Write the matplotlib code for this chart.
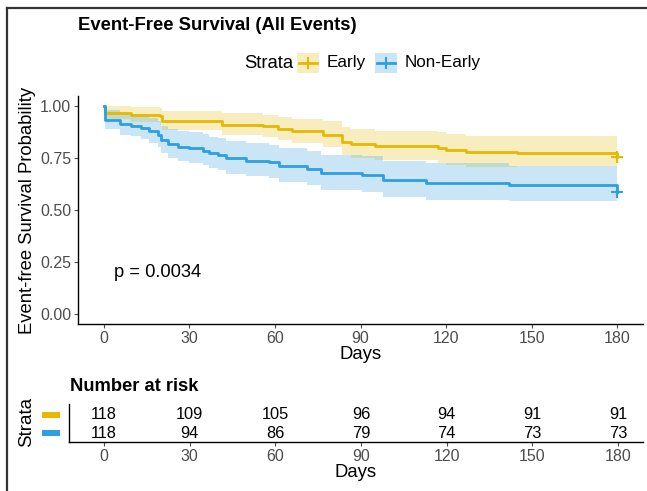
import matplotlib.pyplot as plt
from matplotlib.patches import Rectangle
from matplotlib.lines import Line2D

plt.rcParams['font.family'] = ['Liberation Sans', 'DejaVu Sans']

EARLY_COL = '#E7B800'
NONEARLY_COL = '#2E9FDF'

# Kaplan-Meier steps (days, survival, CI lower, CI upper)
early_time = [0, 0.5, 9.7, 19.6, 20.5, 41.6, 55.7, 61, 66, 76.7, 83.5, 86.5, 95, 117, 120, 127, 145, 180]
early_surv = [1.0, 0.968, 0.958, 0.950, 0.928, 0.911, 0.902, 0.890, 0.878, 0.862, 0.828, 0.817, 0.808, 0.797, 0.788, 0.780, 0.776, 0.757]
early_lower = [1.0, 0.937, 0.922, 0.911, 0.883, 0.861, 0.850, 0.835, 0.821, 0.802, 0.763, 0.750, 0.740, 0.728, 0.718, 0.709, 0.710, 0.710]
early_upper = [1.0, 1.0, 0.995, 0.990, 0.976, 0.964, 0.957, 0.948, 0.939, 0.927, 0.899, 0.890, 0.882, 0.873, 0.865, 0.858, 0.855, 0.855]

nonearly_time = [0, 0.5, 5.6, 9.7, 13, 16, 19, 20, 22.4, 26, 30, 34.7, 37, 40, 43, 50, 58, 61.6,
                 71.4, 76, 90.7, 98, 113, 142, 180]
nonearly_surv = [1.0, 0.933, 0.912, 0.905, 0.893, 0.880, 0.861, 0.837, 0.817, 0.804, 0.797, 0.785, 0.772,
                 0.764, 0.748, 0.737, 0.729, 0.712, 0.696, 0.676, 0.668, 0.644, 0.631, 0.620, 0.588]
nonearly_lower = [1.0, 0.889, 0.862, 0.854, 0.839, 0.823, 0.801, 0.773, 0.750, 0.736, 0.728, 0.714, 0.700,
                  0.691, 0.674, 0.662, 0.653, 0.635, 0.618, 0.597, 0.588, 0.563, 0.550, 0.543, 0.543]
nonearly_upper = [1.0, 0.979, 0.965, 0.960, 0.951, 0.941, 0.926, 0.906, 0.890, 0.879, 0.873, 0.863, 0.852,
                  0.844, 0.830, 0.821, 0.814, 0.799, 0.784, 0.766, 0.758, 0.736, 0.724, 0.710, 0.710]

risk_times = [0, 30, 60, 90, 120, 150, 180]
early_risk = [118, 109, 105, 96, 94, 91, 91]
nonearly_risk = [118, 94, 86, 79, 74, 73, 73]

W, H = 647, 491
fig = plt.figure(figsize=(W / 100, H / 100), dpi=100)

def fx(px):
    return px / W

def fy(py):
    return 1 - py / H

# ---- main KM plot
ax = fig.add_axes([fx(78), fy(324.4), fx(643) - fx(78), fy(95.6) - fy(324.4)])
for t, s, lo, hi, col in [(early_time, early_surv, early_lower, early_upper, EARLY_COL),
                          (nonearly_time, nonearly_surv, nonearly_lower, nonearly_upper, NONEARLY_COL)]:
    ax.fill_between(t, lo, hi, step='post', color=col, alpha=0.25, linewidth=0)
    ax.step(t, s, where='post', color=col, linewidth=2)
    ax.plot(t[-1], s[-1], marker='+', color=col, markersize=8, markeredgewidth=1.5)

ax.set_xlim(-9, 189)
ax.set_ylim(-0.05, 1.05)
ax.set_xticks(risk_times)
ax.set_yticks([0, 0.25, 0.5, 0.75, 1.0])
ax.set_yticklabels(['0.00', '0.25', '0.50', '0.75', '1.00'])
ax.tick_params(labelsize=11.5, colors='#4d4d4d', length=3, width=0.8, pad=2)
for sp in ['top', 'right']:
    ax.spines[sp].set_visible(False)
for sp in ['left', 'bottom']:
    ax.spines[sp].set_color('black')
    ax.spines[sp].set_linewidth(1.0)
ax.set_xlabel('Days', fontsize=13.3, labelpad=0)
ax.set_ylabel('Event-free Survival Probability', fontsize=13.3, labelpad=3)
ax.text(3.5, 0.2, 'p = 0.0034', fontsize=13.2, va='center', ha='left')

# title and legend
fig.text(fx(78), fy(25), 'Event-Free Survival (All Events)', fontsize=13.3, fontweight='bold',
         va='center', ha='left')
fig.text(fx(244), fy(63), 'Strata', fontsize=13.3, va='center', ha='left')
for x0, lab, col in [(297, 'Early', EARLY_COL), (375, 'Non-Early', NONEARLY_COL)]:
    fig.add_artist(Rectangle((fx(x0), fy(73)), fx(22), fy(53) - fy(73), facecolor=col,
                             alpha=0.25, edgecolor='none'))
    fig.add_artist(Line2D([fx(x0 + 2), fx(x0 + 20)], [fy(63), fy(63)], color=col, linewidth=2))
    fig.add_artist(Line2D([fx(x0 + 11), fx(x0 + 11)], [fy(58), fy(68)], color=col, linewidth=1.5))
    fig.text(fx(x0 + 30), fy(63), lab, fontsize=12.3, va='center', ha='left')

# ---- number at risk table
rt = fig.add_axes([fx(69), fy(441.7), fx(643) - fx(69), fy(404) - fy(441.7)])
rt.set_xlim(-12.2, 188.7)
rt.set_ylim(0, 1)
for t, a, b in zip(risk_times, early_risk, nonearly_risk):
    rt.text(t, 0.71, str(a), ha='center', va='center', fontsize=11.8)
    rt.text(t, 0.23, str(b), ha='center', va='center', fontsize=11.8)
rt.set_xticks(risk_times)
rt.set_yticks([])
rt.tick_params(labelsize=11.5, colors='#4d4d4d', length=3, width=0.8, pad=2)
for sp in ['top', 'right']:
    rt.spines[sp].set_visible(False)
for sp in ['left', 'bottom']:
    rt.spines[sp].set_color('black')
    rt.spines[sp].set_linewidth(1.0)
rt.set_xlabel('Days', fontsize=13.3, labelpad=0)

fig.text(fx(70), fy(386.5), 'Number at risk', fontsize=13.2, fontweight='bold', va='center', ha='left')
fig.text(fx(27), fy(422), 'Strata', fontsize=13.5, rotation=90, va='center', ha='center')
for py, col in [(415, EARLY_COL), (433, NONEARLY_COL)]:
    fig.add_artist(Rectangle((fx(42), fy(py + 3)), fx(18), fy(py - 3) - fy(py + 3),
                             facecolor=col, edgecolor='none'))

# frame lines of the screenshot
fig.add_artist(Line2D([fx(7), fx(7)], [0, fy(8)], color='#333333', linewidth=1.6))
fig.add_artist(Line2D([fx(7), 1], [fy(8), fy(8)], color='#333333', linewidth=1.6))

fig.savefig('out.png', dpi=100)
